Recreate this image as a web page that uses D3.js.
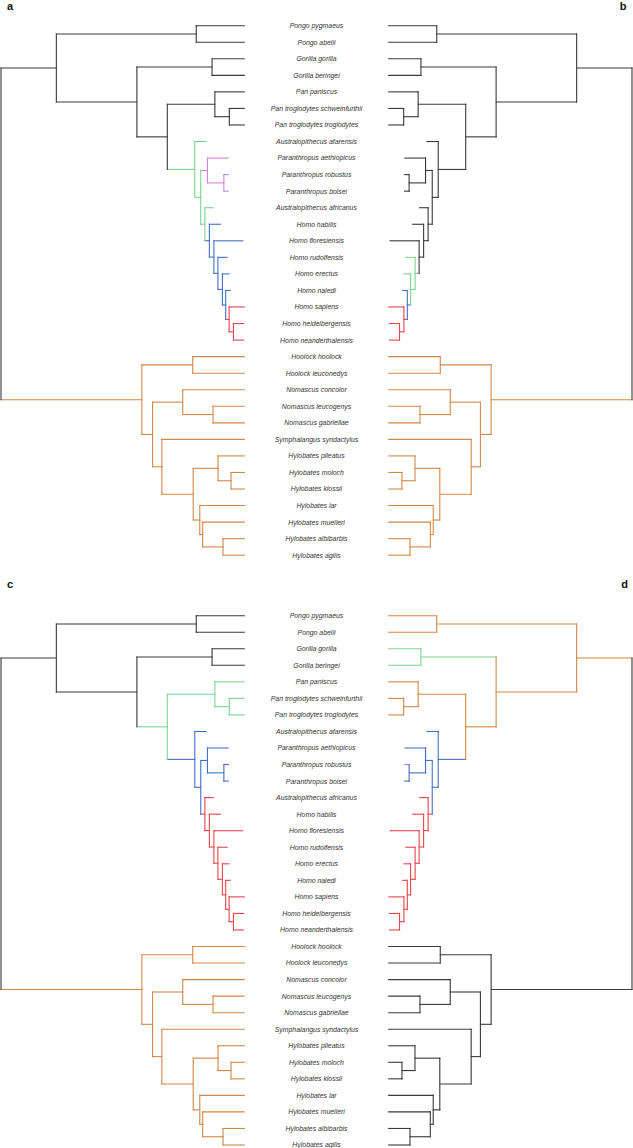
<!DOCTYPE html>
<html>
<head>
<meta charset="utf-8">
<script src="https://cdn.jsdelivr.net/npm/d3@7"></script>
<style>
  html, body { margin: 0; padding: 0; background: #fff; }
  svg { display: block; }
</style>
</head>
<body>
<svg id="chart" width="633" height="1148"></svg>
<script>
// ---------------- DATA ----------------
const taxa = [
  "Pongo pygmaeus","Pongo abelii","Gorilla gorilla","Gorilla beringei","Pan paniscus",
  "Pan troglodytes schweinfurthii","Pan troglodytes troglodytes","Australopithecus afarensis",
  "Paranthropus aethiopicus","Paranthropus robustus","Paranthropus boisei","Australopithecus africanus",
  "Homo habilis","Homo floresiensis","Homo rudolfensis","Homo erectus","Homo naledi","Homo sapiens",
  "Homo heidelbergensis","Homo neanderthalensis","Hoolock hoolock","Hoolock leuconedys",
  "Nomascus concolor","Nomascus leucogenys","Nomascus gabriellae","Symphalangus syndactylus",
  "Hylobates pileatus","Hylobates moloch","Hylobates klossii","Hylobates lar","Hylobates muelleri",
  "Hylobates albibarbis","Hylobates agilis"
];

// tip ages (Ma-like units); fossil taxa end before the present
const tipAges = [
  0, 0, 0, 0, 0,
  0, 0, 3.14,
  1.33, 1.31, 1.31, 2.54,
  1.97, 0.12, 1.41, 1.25, 1.15, 0,
  0.06, 0.06, 0, 0,
  0, 0, 0, 0,
  0, 0, 0, 0, 0,
  0, 0
];

// internal nodes: [name, age, children]
const internalNodes = [
  ["root", 20.0, ["Hominidae", "Hylobatidae"]],
  ["Hominidae", 15.45, ["Pongo", "Homininae"]],
  ["Pongo", 3.95, ["Pongo pygmaeus", "Pongo abelii"]],
  ["Homininae", 8.83, ["Gorilla", "PanHomo"]],
  ["Gorilla", 2.65, ["Gorilla gorilla", "Gorilla beringei"]],
  ["PanHomo", 6.33, ["Pan", "Hominini"]],
  ["Pan", 2.42, ["Pan paniscus", "Pan troglodytes"]],
  ["Pan troglodytes", 1.23, ["Pan troglodytes schweinfurthii", "Pan troglodytes troglodytes"]],
  ["Hominini", 4.07, ["Australopithecus afarensis", "N1"]],
  ["N1", 3.58, ["Paranthropus", "N2"]],
  ["Paranthropus", 3.03, ["Paranthropus aethiopicus", "N3"]],
  ["N3", 1.68, ["Paranthropus robustus", "Paranthropus boisei"]],
  ["N2", 3.24, ["Australopithecus africanus", "Homo"]],
  ["Homo", 2.87, ["Homo habilis", "N4"]],
  ["N4", 2.50, ["Homo floresiensis", "N5"]],
  ["N5", 2.17, ["Homo rudolfensis", "N6"]],
  ["N6", 1.80, ["Homo erectus", "N7"]],
  ["N7", 1.53, ["Homo naledi", "N8"]],
  ["N8", 1.25, ["Homo sapiens", "N9"]],
  ["N9", 0.89, ["Homo heidelbergensis", "Homo neanderthalensis"]],
  ["Hylobatidae", 8.42, ["Hoolock", "N10"]],
  ["Hoolock", 4.24, ["Hoolock hoolock", "Hoolock leuconedys"]],
  ["N10", 7.54, ["Nomascus", "N11"]],
  ["Nomascus", 5.06, ["Nomascus concolor", "N12"]],
  ["N12", 2.57, ["Nomascus leucogenys", "Nomascus gabriellae"]],
  ["N11", 6.78, ["Symphalangus syndactylus", "Hylobates"]],
  ["Hylobates", 4.20, ["N13", "N14"]],
  ["N13", 2.16, ["Hylobates pileatus", "N15"]],
  ["N15", 1.09, ["Hylobates moloch", "Hylobates klossii"]],
  ["N14", 3.66, ["Hylobates lar", "N16"]],
  ["N16", 3.42, ["Hylobates muelleri", "N17"]],
  ["N17", 1.75, ["Hylobates albibarbis", "Hylobates agilis"]]
];

const palette = {
  black: "#3a3a3a",
  orange: "#d08849",
  green: "#7dd490",
  purple: "#d582dc",
  blue: "#4570c6",
  red: "#e5454c"
};

// clade colouring per panel (colour inherited by descendants)
const coloursA = [["root","black"],["Hylobatidae","orange"],["Hominini","green"],["Paranthropus","purple"],["Homo","blue"],["N8","red"]];
const coloursB = [["root","black"],["Hylobatidae","orange"],["N5","green"],["N7","blue"],["N8","red"]];
const coloursC = [["root","black"],["Hylobatidae","orange"],["PanHomo","green"],["Hominini","blue"],["N2","red"]];
const coloursD = [["root","black"],["Hominidae","orange"],["Gorilla","green"],["Hominini","blue"],["Paranthropus robustus","purple"],["N2","red"]];

const panelLetters = ["a", "b", "c", "d"];

// ---------------- BUILD TREE ----------------
const nodeMap = new Map();
internalNodes.forEach(([name, age, children]) => nodeMap.set(name, { name, age, children }));
taxa.forEach((t, i) => nodeMap.set(t, { name: t, age: tipAges[i], index: i }));

function build(name) {
  const n = nodeMap.get(name);
  const o = { name: n.name, age: n.age };
  if (n.children) o.children = n.children.map(build);
  else o.index = n.index;
  return o;
}

const svg = d3.select("#chart");
const W = 633;

function drawTree(opts) {
  const root = d3.hierarchy(build("root"));
  const cmap = new Map(opts.colours);
  root.each(d => {
    d.colour = cmap.has(d.data.name) ? cmap.get(d.data.name) : (d.parent ? d.parent.colour : "black");
  });
  const yScale = d3.scaleLinear().domain([0, taxa.length - 1]).range(opts.yRange);
  const xScale = d3.scaleLinear().domain([0, 20]).range(opts.xRange);
  root.eachAfter(d => {
    if (d.children) {
      d.y = (d.children[0].y + d.children[d.children.length - 1].y) / 2;
    } else {
      d.y = yScale(d.data.index);
    }
    d.x = xScale(d.data.age);
  });

  const g = svg.append("g");
  // horizontal branches
  g.selectAll("line.h")
    .data(root.descendants().filter(d => d.parent))
    .join("line")
    .attr("class", "h")
    .attr("x1", d => d.parent.x).attr("x2", d => d.x)
    .attr("y1", d => d.y).attr("y2", d => d.y)
    .attr("stroke", d => palette[d.colour])
    .attr("stroke-width", 1.1)
    .attr("stroke-linecap", "square");
  // vertical connectors
  g.selectAll("line.v")
    .data(root.descendants().filter(d => d.children))
    .join("line")
    .attr("class", "v")
    .attr("x1", d => d.x).attr("x2", d => d.x)
    .attr("y1", d => d.children[0].y)
    .attr("y2", d => d.children[d.children.length - 1].y)
    .attr("stroke", d => palette[d.colour])
    .attr("stroke-width", 1.1)
    .attr("stroke-linecap", "square");
}

const topY = [25.7, 555.2];
const botY = [615.7, 1145.0];
const leftX = [244.3, 1.0];
const rightX = [388.7, 632.0];

drawTree({ colours: coloursA, yRange: topY, xRange: leftX });
drawTree({ colours: coloursB, yRange: topY, xRange: rightX });
drawTree({ colours: coloursC, yRange: botY, xRange: leftX });
drawTree({ colours: coloursD, yRange: botY, xRange: rightX });

// labels
[topY, botY].forEach(range => {
  const yScale = d3.scaleLinear().domain([0, taxa.length - 1]).range(range);
  svg.append("g")
    .selectAll("text")
    .data(taxa)
    .join("text")
    .attr("x", 316.5)
    .attr("y", (d, i) => yScale(i))
    .attr("dy", "0.35em")
    .attr("text-anchor", "middle")
    .attr("font-family", "'Liberation Sans', Arial, Helvetica, sans-serif")
    .attr("font-style", "italic")
    .attr("font-size", 6.9)
    .attr("fill", "#333")
    .text(d => d);
});

// panel letters
const letterPos = [[7, 9.6, "start"], [626.5, 9.6, "end"], [7, 588.4, "start"], [628, 587.8, "end"]];
svg.append("g")
  .selectAll("text")
  .data(panelLetters)
  .join("text")
  .attr("x", (d, i) => letterPos[i][0])
  .attr("y", (d, i) => letterPos[i][1])
  .attr("text-anchor", (d, i) => letterPos[i][2])
  .attr("font-family", "'Liberation Sans', Arial, Helvetica, sans-serif")
  .attr("font-weight", "bold")
  .attr("font-size", 11)
  .attr("fill", "#111")
  .text(d => d);
</script>
</body>
</html>
